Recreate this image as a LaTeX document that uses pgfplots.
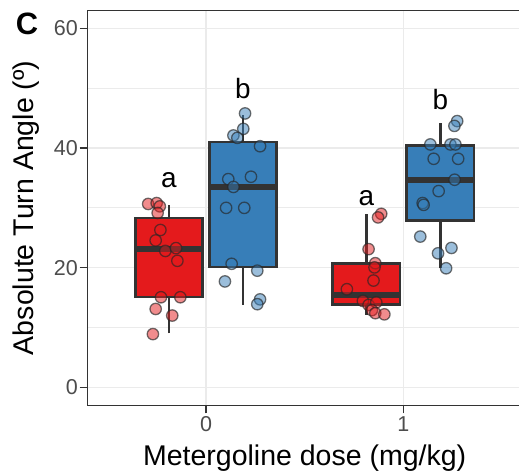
\documentclass[border=0pt]{standalone}
\usepackage{fontspec}
\setmainfont{Liberation Sans}
\usepackage{pgfplots}
\pgfplotsset{compat=1.18}
\usepgfplotslibrary{statistics}

\definecolor{setred}{HTML}{E41A1C}
\definecolor{setblue}{HTML}{377EB8}
\definecolor{edge}{HTML}{333333}
\definecolor{tickgray}{HTML}{4D4D4D}
\definecolor{gridgray}{HTML}{EBEBEB}

\pgfplotsset{
  pts/.style={only marks, mark=*, mark size=5.7bp,
    mark options={fill=#1, fill opacity=0.5, draw=black!85, draw opacity=0.65, line width=1.3bp}},
}

\begin{document}
\begin{tikzpicture}
\path[use as bounding box] (0,0) rectangle (519bp,475bp);
\begin{axis}[
  at={(87.6bp,69.7bp)}, anchor=south west,
  scale only axis, width=434.1bp, height=394.9bp,
  xmin=-0.6, xmax=1.6, ymin=-3, ymax=63,
  xtick={0,1}, ytick={0,20,40,60}, minor ytick={10,30,50},
  xmajorgrids, ymajorgrids, yminorgrids,
  major grid style={draw=gridgray, line width=1.6bp},
  minor grid style={draw=gridgray, line width=0.8bp},
  axis line style={draw=edge, line width=1.2bp},
  tick align=outside, major tick length=8bp, minor tick length=0pt,
  tick style={draw=edge, line width=1.4bp},
  xtick pos=bottom, ytick pos=left,
  /pgf/number format/assume math mode=true,
  tick label style={font=\fontsize{21.6}{24}\selectfont, text=tickgray},
  yticklabel style={inner sep=1.5bp},
  xticklabel style={inner sep=3bp},
  label style={font=\fontsize{28.6}{32}\selectfont},
  xlabel={Metergoline dose (mg/kg)},
  ylabel={Absolute Turn Angle (º)},
  xlabel style={at={(axis description cs:0.5,-0.1512)}, anchor=base},
  ylabel style={at={(axis description cs:-0.142,0.5)}, anchor=center},
  boxplot/draw direction=y,
  boxplot/box extend=0.34, boxplot/whisker extend=0,
  boxplot/every median/.style={line width=6bp},
]
% boxes
\addplot+[boxplot prepared={draw position=-0.1875, lower whisker=9.0, lower quartile=15.1, median=23.05, upper quartile=28.3, upper whisker=30.5},
  draw=edge, fill=setred, line width=2.6bp, mark=none, solid] coordinates {};
\addplot+[boxplot prepared={draw position=0.1875, lower whisker=13.8, lower quartile=20.1, median=33.5, upper quartile=41.0, upper whisker=45.6},
  draw=edge, fill=setblue, line width=2.6bp, mark=none, solid] coordinates {};
\addplot+[boxplot prepared={draw position=0.8125, lower whisker=12.1, lower quartile=13.8, median=15.45, upper quartile=20.65, upper whisker=29.0},
  draw=edge, fill=setred, line width=2.6bp, mark=none, solid] coordinates {};
\addplot+[boxplot prepared={draw position=1.1875, lower whisker=19.9, lower quartile=27.9, median=34.7, upper quartile=40.4, upper whisker=44.2},
  draw=edge, fill=setblue, line width=2.6bp, mark=none, solid] coordinates {};
% jittered points
\addplot[pts=setred] coordinates {
(-0.293,30.65) (-0.250,30.8) (-0.234,30.25) (-0.245,29.15) (-0.231,26.3)
(-0.255,24.55) (-0.206,22.8) (-0.152,23.27) (-0.145,21.15) (-0.228,15.06)
(-0.130,15.06) (-0.255,13.1) (-0.171,12.0) (-0.269,8.9)
};
\addplot[pts=setblue] coordinates {
(0.198,45.78) (0.189,43.2) (0.139,42.1) (0.159,41.7) (0.274,40.3)
(0.228,35.2) (0.113,34.8) (0.139,33.5) (0.102,30.0) (0.194,30.0)
(0.130,20.65) (0.260,19.5) (0.096,17.7) (0.274,14.7) (0.260,13.9)
};
\addplot[pts=setred] coordinates {
(0.888,29.0) (0.872,28.4) (0.824,23.1) (0.858,20.75) (0.854,20.05)
(0.849,17.85) (0.714,16.4) (0.795,14.45) (0.824,13.77) (0.863,14.2)
(0.841,12.9) (0.858,12.4) (0.904,12.2)
};
\addplot[pts=setblue] coordinates {
(1.273,44.5) (1.259,43.7) (1.137,40.6) (1.239,40.6) (1.264,40.6)
(1.154,38.2) (1.278,38.2) (1.260,34.7) (1.179,32.8) (1.098,30.8)
(1.103,30.5) (1.086,25.2) (1.244,23.3) (1.176,22.4) (1.217,19.9)
};
% significance letters
\node[anchor=base, font=\fontsize{28}{32}\selectfont] at (axis cs:-0.1875,33.4) {a};
\node[anchor=base, font=\fontsize{28}{32}\selectfont] at (axis cs:0.1875,48.25) {b};
\node[anchor=base, font=\fontsize{28}{32}\selectfont] at (axis cs:0.8125,30.4) {a};
\node[anchor=base, font=\fontsize{28}{32}\selectfont] at (axis cs:1.1875,46.45) {b};
\end{axis}
\node[font=\fontsize{31}{34}\selectfont\bfseries] at (27bp,451bp) {C};
\end{tikzpicture}
\end{document}
